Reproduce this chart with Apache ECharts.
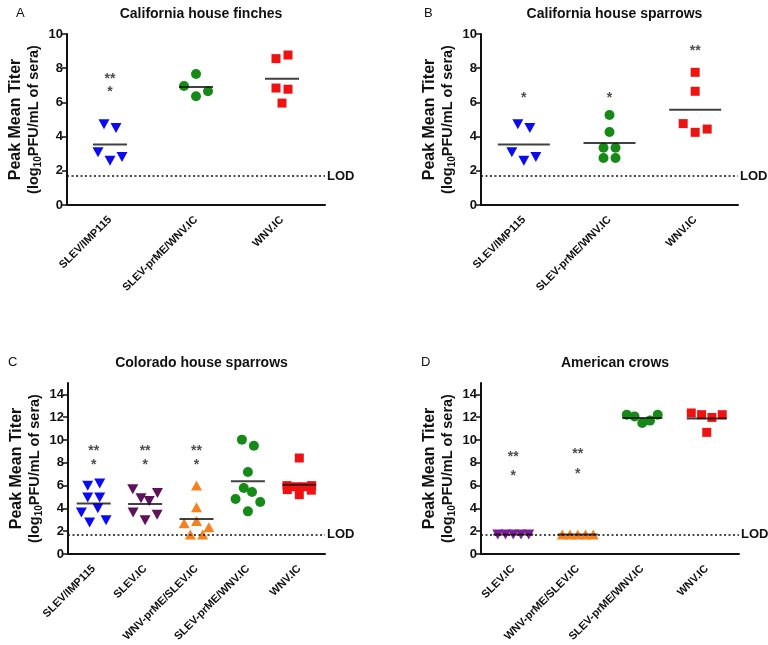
<!DOCTYPE html>
<html><head><meta charset="utf-8">
<script src="https://cdn.jsdelivr.net/npm/echarts@6/dist/echarts.min.js"></script>
<style>html,body{margin:0;padding:0;background:#fff}#c{width:768px;height:645px}</style>
</head><body><div id="c"></div>
<script>
// ================= DATA =================
const LOD = 1.7;
const ticks10 = [0, 2, 4, 6, 8, 10];
const ticks14 = [0, 2, 4, 6, 8, 10, 12, 14];

// A: California house finches
const catsFinch = ['SLEV/IMP115', 'SLEV-prME/WNV.IC', 'WNV.IC'];
const finch_SLEV_IMP115 = [4.72, 4.5, 3.08, 2.59, 2.8];
const finch_SLEVprME_WNVIC = [7.66, 6.96, 6.36, 6.65];
const finch_WNVIC = [8.56, 8.77, 6.84, 6.77, 5.96];
const finchStars = [[0, 7.56, '**'], [0, 6.78, '*']];

// B: California house sparrows
const catsCaSparrow = ['SLEV/IMP115', 'SLEV-prME/WNV.IC', 'WNV.IC'];
const caSparrow_SLEV_IMP115 = [4.72, 4.5, 3.08, 2.59, 2.8];
const caSparrow_SLEVprME_WNVIC = [5.26, 4.27, 3.35, 3.35, 2.75, 2.75];
const caSparrow_WNVIC = [7.76, 6.65, 4.76, 4.25, 4.44];
const caSparrowStars = [[0, 6.43, '*'], [1, 6.43, '*'], [2, 9.16, '**']];

// C: Colorado house sparrows
const catsCoSparrow = ['SLEV/IMP115', 'SLEV.IC', 'WNV-prME/SLEV.IC', 'SLEV-prME/WNV.IC', 'WNV.IC'];
const coSparrow_SLEV_IMP115 = [5.98, 6.18, 4.95, 4.95, 3.64, 2.76, 4.02, 2.97];
const coSparrow_SLEVIC = [5.69, 4.9, 4.66, 5.34, 3.64, 2.97, 3.44];
const coSparrow_WNVprME_SLEVIC = [6.0, 4.1, 2.7, 1.7, 2.9, 1.7, 2.35];
const coSparrow_SLEVprME_WNVIC = [10.03, 9.5, 7.19, 4.82, 5.79, 5.44, 4.56, 3.74];
const coSparrow_WNVIC = [8.42, 6.0, 5.9, 5.9, 6.0, 5.65, 5.2, 5.6];
const coSparrowStars = [[0, 9.3, '**'], [0, 8.04, '*'], [1, 9.3, '**'], [1, 8.04, '*'], [2, 9.3, '**'], [2, 8.04, '*']];

// D: American crows
const catsCrow = ['SLEV.IC', 'WNV-prME/SLEV.IC', 'SLEV-prME/WNV.IC', 'WNV.IC'];
const crow_SLEVIC = [1.7, 1.7, 1.7, 1.7, 1.7];
const crow_WNVprME_SLEVIC = [1.7, 1.7, 1.7, 1.7, 1.7];
const crow_SLEVprME_WNVIC = [12.22, 12.07, 11.49, 11.7, 12.22];
const crow_WNVIC = [12.37, 12.22, 11.98, 12.22, 10.67];
const crowStars = [[0, 8.8, '**'], [0, 7.1, '*'], [1, 9.0, '**'], [1, 7.25, '*']];

// ================= STYLES / LAYOUT =================
const FONT = '"Liberation Sans", Arial, Helvetica, sans-serif';
const INK = '#111';
const SYM = {
  down:   { symbol: 'triangle', rotate: 180, size: [11, 10] },
  up:     { symbol: 'triangle', rotate: 0,   size: [11, 10] },
  circle: { symbol: 'circle',   rotate: 0,   size: 10 },
  square: { symbol: 'rect',     rotate: 0,   size: 9 }
};
const COL = { blue: '#0b0bf2', green: '#168a16', red: '#ee1212', plum: '#62105c', purple: '#7d1c9c', orange: '#f7801f' };

const panels = [
  { letter: 'A', title: 'California house finches', grid: { left: 67, top: 34, width: 258, height: 171 },
    yMax: 10, ticks: ticks10, cats: catsFinch, stars: finchStars, meanW: 34,
    groups: [[finch_SLEV_IMP115, 'down', 'blue'], [finch_SLEVprME_WNVIC, 'circle', 'green'], [finch_WNVIC, 'square', 'red']],
    letterPos: [11, 2], titleTop: 2 },
  { letter: 'B', title: 'California house sparrows', grid: { left: 481, top: 34, width: 257, height: 171 },
    yMax: 10, ticks: ticks10, cats: catsCaSparrow, stars: caSparrowStars, meanW: 52,
    groups: [[caSparrow_SLEV_IMP115, 'down', 'blue'], [caSparrow_SLEVprME_WNVIC, 'circle', 'green'], [caSparrow_WNVIC, 'square', 'red']],
    letterPos: [419, 2], titleTop: 2 },
  { letter: 'C', title: 'Colorado house sparrows', grid: { left: 68, top: 383, width: 257, height: 171 },
    yMax: 15, ticks: ticks14, cats: catsCoSparrow, stars: coSparrowStars, meanW: 34,
    groups: [[coSparrow_SLEV_IMP115, 'down', 'blue'], [coSparrow_SLEVIC, 'down', 'plum'], [coSparrow_WNVprME_SLEVIC, 'up', 'orange'],
             [coSparrow_SLEVprME_WNVIC, 'circle', 'green'], [coSparrow_WNVIC, 'square', 'red']],
    letterPos: [3, 351], titleTop: 351 },
  { letter: 'D', title: 'American crows', grid: { left: 481, top: 383, width: 258, height: 171 },
    yMax: 15, ticks: ticks14, cats: catsCrow, stars: crowStars, meanW: 40,
    groups: [[crow_SLEVIC, 'down', 'purple'], [crow_WNVprME_SLEVIC, 'up', 'orange'],
             [crow_SLEVprME_WNVIC, 'circle', 'green'], [crow_WNVIC, 'square', 'red']],
    letterPos: [416, 351], titleTop: 351 }
];

// Beeswarm-like horizontal spreading (GraphPad style rows), returns offsets in category units
function swarm(values, pxPerUnit, bandPx) {
  const GAP = 9, DX = 12, MIN_DX = 6, SPREAD = 0.48;
  const n = values.length, off = new Array(n).fill(0);
  const idx = values.map((v, i) => i).sort((a, b) => values[b] - values[a]);
  const rows = []; let cur = [idx[0]];
  for (let k = 1; k < n; k++) {
    if ((values[cur[cur.length - 1]] - values[idx[k]]) * pxPerUnit <= GAP) cur.push(idx[k]);
    else { rows.push(cur); cur = [idx[k]]; }
  }
  rows.push(cur);
  const maxSpread = SPREAD * bandPx;
  const maxN = Math.floor(maxSpread / MIN_DX) + 1;
  rows.forEach(row => {
    const nChunks = Math.ceil(row.length / maxN);
    const size = Math.ceil(row.length / nChunks);
    for (let c = 0; c < nChunks; c++) {
      const chunk = row.slice(c * size, (c + 1) * size).sort((a, b) => a - b);
      const m = chunk.length;
      const dx = m > 1 ? Math.min(DX, maxSpread / (m - 1)) : 0;
      chunk.forEach((i, j) => { off[i] = (j - (m - 1) / 2) * dx / bandPx; });
    }
  });
  return off;
}
const mean = a => a.reduce((s, v) => s + v, 0) / a.length;

const option = { animation: false, textStyle: { fontFamily: FONT }, title: [], grid: [], xAxis: [], yAxis: [], series: [] };

panels.forEach((p, pi) => {
  const g = p.grid;
  option.grid.push({ left: g.left, top: g.top, width: g.width, height: g.height, containLabel: false });
  option.title.push({ text: p.title, left: g.left + g.width / 2, top: p.titleTop, textAlign: 'center',
    textStyle: { fontSize: 14, fontWeight: 'bold', color: INK, fontFamily: FONT } });
  option.title.push({ text: p.letter, left: p.letterPos[0], top: p.letterPos[1],
    textStyle: { fontSize: 13, fontWeight: 'normal', color: INK, fontFamily: FONT } });
  const nC = p.cats.length;
  // category axis (visible)
  option.xAxis.push({ type: 'category', gridIndex: pi, data: p.cats, boundaryGap: true,
    axisLine: { onZero: false, lineStyle: { color: INK, width: 2 } },
    axisTick: { alignWithLabel: true, length: 5, lineStyle: { color: INK, width: 1.5 } },
    axisLabel: { interval: 0, rotate: 45, fontSize: 11, fontWeight: 'bold', color: INK, margin: 13, fontFamily: FONT },
    splitLine: { show: false } });
  // value axis (hidden) for placing points
  option.xAxis.push({ type: 'value', gridIndex: pi, min: -0.5, max: nC - 0.5, show: false });
  const vx = option.xAxis.length - 1;
  option.yAxis.push({ type: 'value', gridIndex: pi, min: 0, max: p.yMax, interval: 2,
    name: '{b|Peak Mean Titer}\n{a|(log}{s|10}{a|PFU/mL of sera)}',
    nameLocation: 'middle', nameRotate: 90, nameGap: 24,
    nameTextStyle: { fontSize: 14, fontWeight: 'bold', color: INK, lineHeight: 18,
      rich: { b: { fontSize: 16, fontWeight: 'bold', color: INK, lineHeight: 18, fontFamily: FONT },
              a: { fontSize: 14.5, fontWeight: 'bold', color: INK, lineHeight: 18, fontFamily: FONT },
              s: { fontSize: 10, fontWeight: 'bold', color: INK, lineHeight: 18, verticalAlign: 'bottom', fontFamily: FONT } } },
    axisLine: { show: true, onZero: false, lineStyle: { color: INK, width: 2 } },
    axisTick: { show: true, length: 5, lineStyle: { color: INK, width: 1.5 }, customValues: p.ticks },
    axisLabel: { fontSize: 13, fontWeight: 'bold', color: INK, margin: 4, customValues: p.ticks, fontFamily: FONT },
    splitLine: { show: false } });
  const yi = option.yAxis.length - 1;
  const pxPerUnit = g.height / p.yMax, bandPx = g.width / nC;
  const means = [];
  p.groups.forEach(([vals, symKey, colKey], ci) => {
    const s = SYM[symKey];
    const off = swarm(vals, pxPerUnit, bandPx);
    option.series.push({ type: 'scatter', xAxisIndex: vx, yAxisIndex: yi, z: 2,
      symbol: s.symbol, symbolRotate: s.rotate, symbolSize: s.size,
      itemStyle: { color: COL[colKey], opacity: 1 },
      data: vals.map((v, i) => [ci + off[i], v]) });
    means.push([ci, mean(vals)]);
  });
  // mean lines
  option.series.push({ type: 'scatter', xAxisIndex: vx, yAxisIndex: yi, z: 4,
    symbol: 'rect', symbolSize: [p.meanW, 2], itemStyle: { color: INK }, data: means });
  // significance stars + LOD line
  option.series.push({ type: 'scatter', xAxisIndex: vx, yAxisIndex: yi, z: 5,
    symbolSize: 1, itemStyle: { color: 'rgba(0,0,0,0)' },
    label: { show: true, position: 'inside', offset: [0, 3], fontSize: 14, fontWeight: 'bold', color: '#222', fontFamily: FONT,
      formatter: prm => prm.data[2] },
    data: p.stars.map(s => [s[0], s[1], s[2]]),
    markLine: { silent: true, symbol: 'none', animation: false,
      lineStyle: { type: [2, 2.5], color: INK, width: 1.5 },
      label: { show: true, position: 'end', formatter: 'LOD', fontSize: 13, fontWeight: 'bold', color: INK, distance: 2, fontFamily: FONT },
      data: [{ yAxis: LOD }] } });
});

const chart = echarts.init(document.getElementById('c'), null, { renderer: 'canvas' });
chart.setOption(option);
</script>
</body></html>
